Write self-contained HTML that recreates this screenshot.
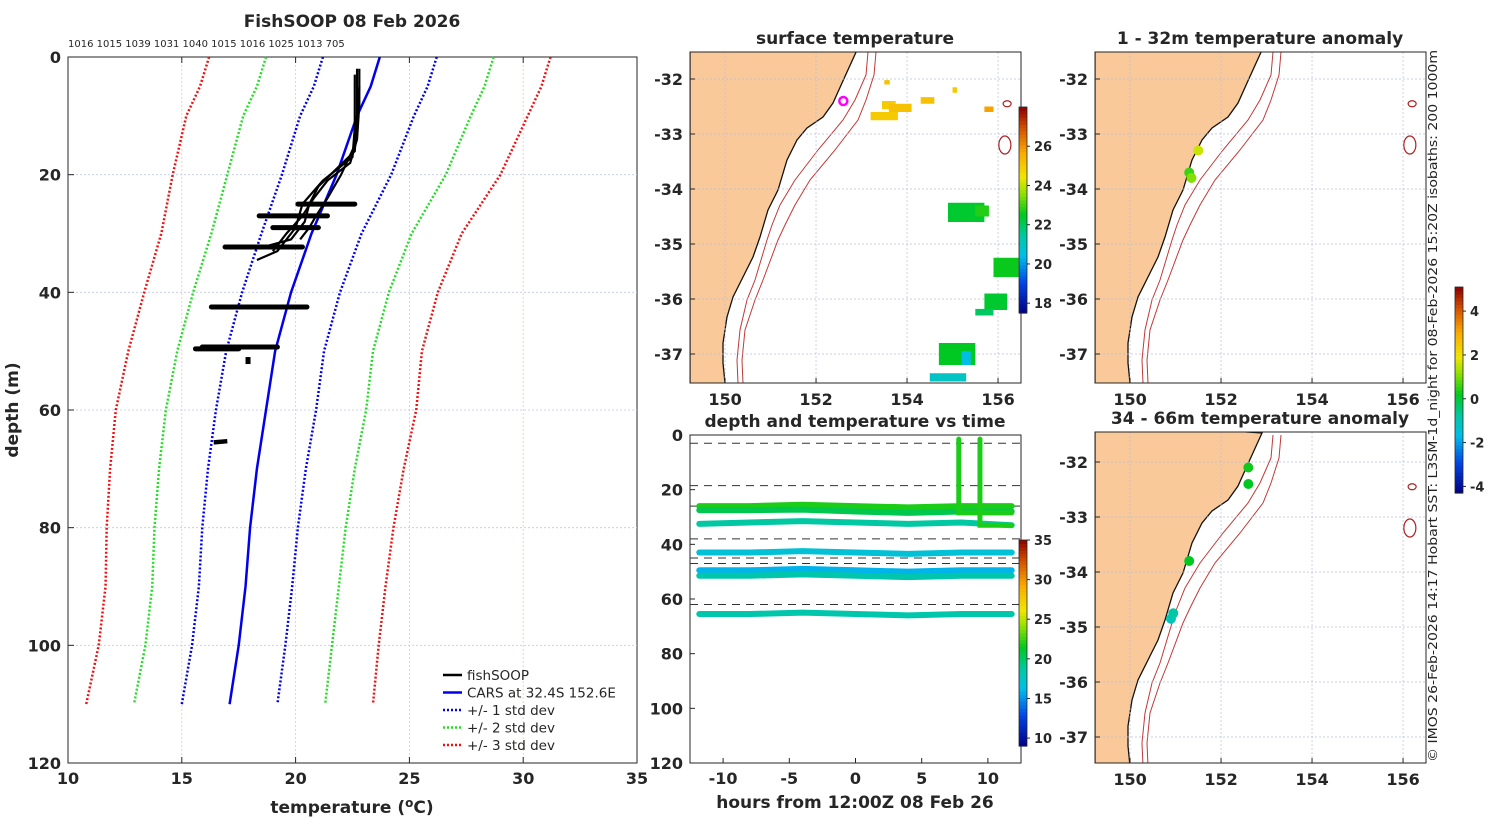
<!DOCTYPE html>
<html><head><meta charset="utf-8"><style>
html,body{margin:0;padding:0;background:#fff;width:1500px;height:820px;overflow:hidden;}
svg{display:block;font-family:"DejaVu Sans","Liberation Sans",sans-serif;}
</style></head><body>
<svg id="fig" width="1500" height="820" viewBox="0 0 1500 820" xmlns="http://www.w3.org/2000/svg">
<g id="left"></g>
<g id="sst"></g>
<g id="tv"></g>
<g id="an1"></g>
<g id="an2"></g>
<text x="1437" y="762" transform="rotate(-90 1437 762)" font-size="12.5" fill="#222" textLength="712" lengthAdjust="spacingAndGlyphs">© IMOS 26-Feb-2026 14:17 Hobart SST: L3SM-1d_night for 08-Feb-2026 15:20Z isobaths: 200  1000m</text>
</svg>
<script>
// ---------- data ----------
const carsDepth=[0,5,10,20,30,40,50,60,70,80,90,100,110];
const carsTemp=[23.7,23.3,22.7,21.8,20.7,19.8,19.1,18.7,18.3,18.0,17.8,17.5,17.1];
const carsStd=[2.5,2.5,2.5,2.4,2.2,2.15,2.15,2.2,2.15,2.1,2.05,2.05,2.1];
const dropCounts=["1016","1015","1039","1031","1040","1015","1016","1025","1013","705"];
const xTicks=[10,15,20,25,30,35];
const yTicks=[0,20,40,60,80,100,120];
const profiles=[
 [[22.8,2],[22.8,8],[22.7,14],[22.4,18],[21.4,21],[20.8,24],[20.3,27],[19.6,30],[19.0,33]],
 [[22.7,2],[22.7,10],[22.6,16],[21.8,19],[21.0,22],[20.6,25],[20.4,28],[19.8,31],[18.4,32.5]],
 [[22.6,3],[22.6,12],[22.5,17],[21.2,21],[20.3,25],[20.0,29],[19.2,33],[18.3,34.5]],
 [[22.8,5],[22.6,15],[22.0,20],[21.4,24],[20.9,27],[20.6,29],[20.2,31]]
];
const streaks=[[20.1,22.6,25],[18.4,21.4,27],[19.0,21.0,29],[16.9,20.3,32.3],[16.3,20.5,42.5],[15.9,19.2,49.3],[15.6,17.5,49.6]];
// depth-time panel
const hours=[-12,-8,-4,0,4,8,12];
const tvDepths=[[26,26,25.5,26,26.5,26,26],[27.5,27.5,27.3,28,28.5,28,28],[32.5,32,31.5,32,32.5,32,33],[43,43,42.5,43,43.5,43,43],[49.5,49.5,49,49.5,50,49.5,49.5],[51.5,51.5,51,51.5,52,51.5,51.5],[65.5,65.5,65,65.5,66,65.5,65.5]];
const tvTemps=[22,20.5,18.8,17,16,18.5,18.5];
const dashDepths=[3,18.5,26,38,45,47,62];
const spikeHours=[7.8,9.4];
const spikeBottom=[28.5,33];
const spikeTemp=22;
// sst patches [lon,lat,w,h,temp]
const sstPatches=[[153.45,-32.55,0.3,0.15,25],[153.2,-32.75,0.6,0.15,25],[153.6,-32.6,0.5,0.15,25.2],[154.3,-32.45,0.3,0.12,25.2],[153.5,-32.1,0.12,0.08,25.2],[155.0,-32.25,0.1,0.1,25],[155.7,-32.6,0.2,0.1,25.8],
 [154.9,-34.6,0.8,0.35,22.4],[155.5,-34.5,0.3,0.2,22.8],[155.9,-35.6,0.55,0.35,22.6],[155.7,-36.2,0.5,0.3,22.4],[155.5,-36.3,0.4,0.12,22],
 [154.7,-37.2,0.8,0.4,22.5],[154.5,-37.5,0.8,0.15,21],[155.2,-37.2,0.2,0.25,20.5]];
const an1Dots=[[151.5,-33.3,1.6],[151.3,-33.7,0.6],[151.35,-33.8,1.1]];
const an2Dots=[[152.6,-32.1,0.3],[152.6,-32.4,0.2],[151.3,-33.8,0.2],[150.9,-34.85,-1.0],[150.95,-34.75,-0.8]];
// ---------- helpers ----------
const NS="http://www.w3.org/2000/svg";
function el(parent,tag,attrs,name){const e=document.createElementNS(NS,tag);for(const k in attrs)e.setAttribute(k,attrs[k]);
 
 
 parent.appendChild(e);return e;}
function txt(parent,x,y,s,size,anchor,bold,name){const t=el(parent,'text',{x:x,y:y,'font-size':size,'text-anchor':anchor||'middle','font-weight':bold?'bold':'normal',fill:'#262626'},name);t.textContent=s;return t;}
function jet(t){t=Math.max(0,Math.min(1,t));const s=[[0,[0,0,130]],[0.15,[0,70,230]],[0.28,[0,190,235]],[0.38,[0,200,160]],[0.48,[0,200,30]],[0.58,[140,225,0]],[0.66,[240,230,0]],[0.78,[250,170,0]],[0.9,[210,80,0]],[1,[140,0,0]]];
 for(let i=1;i<s.length;i++){if(t<=s[i][0]){const a=s[i-1],b=s[i],f=(t-a[0])/(b[0]-a[0]);return 'rgb('+a[1].map((v,j)=>Math.round(v+(b[1][j]-v)*f)).join(',')+')';}}return 'rgb(140,0,0)';}
// ---------- left panel ----------
const L=document.getElementById('left');
const X=t=>68+(t-10)*(637-68)/25, Y=d=>57+d*(763-57)/120;
el(L,'rect',{x:68,y:57,width:569,height:706,fill:'#fff',stroke:'#262626','stroke-width':1},'plot-area');
xTicks.forEach(t=>{if(t>10&&t<35)el(L,'line',{x1:X(t),x2:X(t),y1:57,y2:763,stroke:'#e8c8b8','stroke-width':0.8,'stroke-dasharray':'2 2'},'x-grid');
 txt(L,X(t),784,String(t),16,'middle',true,'x-tick-label');
 el(L,'line',{x1:X(t),x2:X(t),y1:763,y2:757,stroke:'#262626'},'x-tick');el(L,'line',{x1:X(t),x2:X(t),y1:57,y2:63,stroke:'#262626'},'x-tick-top');});
yTicks.forEach(d=>{if(d>0&&d<120)el(L,'line',{x1:68,x2:637,y1:Y(d),y2:Y(d),stroke:'#c0c8e8','stroke-width':0.8,'stroke-dasharray':'2 2'},'y-grid');
 txt(L,61,Y(d)+6,String(d),16,'end',true,'y-tick-label');el(L,'line',{x1:68,x2:74,y1:Y(d),y2:Y(d),stroke:'#262626'},'y-tick');});
txt(L,352,27,'FishSOOP 08 Feb 2026',17,'middle',true,'chart-title');
txt(L,68,47,dropCounts.join(' '),10,'start',false,'drop-counts');
const xl=txt(L,352,813,'temperature (',17,'middle',true,'x-axis-title');xl.innerHTML='temperature (<tspan dy="-6" font-size="12">o</tspan><tspan dy="6">C)</tspan>';
const yl=txt(L,18,410,'depth (m)',17,'middle',true,'y-axis-title');yl.setAttribute('transform','rotate(-90 18 410)');
const stds=[[1,'#0000ee'],[2,'#22dd22'],[3,'#ee1111']];
stds.forEach(([k,c])=>{[-1,1].forEach(sg=>{const pts=carsDepth.map((d,i)=>X(carsTemp[i]+sg*k*carsStd[i])+','+Y(d)).join(' ');
 el(L,'polyline',{points:pts,fill:'none',stroke:c,'stroke-width':2.5,'stroke-dasharray':'2 2'},'std-dev-'+k+(sg<0?'-low':'-high'));});});
el(L,'polyline',{points:carsDepth.map((d,i)=>X(carsTemp[i])+','+Y(d)).join(' '),fill:'none',stroke:'#0000ee','stroke-width':2.5},'cars-line');
profiles.forEach(p=>el(L,'polyline',{points:p.map(q=>X(q[0])+','+Y(q[1])).join(' '),fill:'none',stroke:'#000','stroke-width':2.2},'fishsoop-profile'));
streaks.forEach(s=>el(L,'line',{x1:X(s[0]),x2:X(s[1]),y1:Y(s[2]),y2:Y(s[2]),stroke:'#000','stroke-width':5,'stroke-linecap':'round'},'fishsoop-streak'));
el(L,'rect',{x:X(17.8),y:Y(51),width:5,height:7,fill:'#000'},'fishsoop-point');
el(L,'line',{x1:X(16.4),x2:X(17.0),y1:Y(65.5),y2:Y(65.3),stroke:'#000','stroke-width':4.5},'fishsoop-point2');
const leg=[['fishSOOP','#000',''],['CARS at 32.4S 152.6E','#0000ee',''],['+/- 1 std dev','#0000ee','2 2'],['+/- 2 std dev','#22dd22','2 2'],['+/- 3 std dev','#ee1111','2 2']];
leg.forEach((l,i)=>{const y=675+i*17.5;el(L,'line',{x1:443,x2:462,y1:y,y2:y,stroke:l[1],'stroke-width':2.5,'stroke-dasharray':l[2]||'none'},'legend-line');
 txt(L,467,y+5,l[0],13.5,'start',false,'legend-entry');});
// ---------- maps ----------
const coast=[[857,50],[842,83],[833,103],[823,117],[807,128],[797,140],[787,160],[778,190],[768,210],[760,237],[753,257],[743,277],[733,297],[727,317],[723,343],[723,363],[725,383]];
const iso1=[[868,52],[866,75],[855,100],[843,120],[818,150],[795,180],[780,205],[772,225],[767,240],[755,280],[747,300],[740,330],[737,360],[738,383]];
const iso2=[[876,52],[874,75],[866,100],[858,120],[835,150],[810,180],[795,205],[785,225],[778,240],[763,280],[755,300],[745,330],[742,360],[743,383]];
function map(g,x0,y0,top,h,title){
 const MX=lon=>x0+(lon-149.23)*45.5, MY=lat=>y0+(-32-lat)*55;
 const clip='c'+x0+top;const cp=el(g,'clipPath',{id:clip},'clip');el(cp,'rect',{x:x0,y:top,width:331,height:h},'clip-rect');
 const inner=el(g,'g',{'clip-path':'url(#'+clip+')'},'map-content');
 el(inner,'rect',{x:x0,y:top,width:331,height:h,fill:'#fff'},'sea');
 const dx=x0-690,dy=y0-79;
 const cp2=coast.map(p=>(p[0]+dx)+','+(p[1]+dy)).join(' ');
 el(inner,'polygon',{points:x0+','+(y0-40)+' '+cp2+' '+x0+','+(y0+400),fill:'#fac99a',stroke:'#111','stroke-width':1.3},'land');
 [iso1,iso2].forEach((iso,i)=>el(inner,'polyline',{points:iso.map(p=>(p[0]+dx)+','+(p[1]+dy)).join(' '),fill:'none',stroke:'#c03838','stroke-width':1},'isobath-'+(i?1000:200)));
 [150,152,154,156].forEach(l=>el(inner,'line',{x1:MX(l),x2:MX(l),y1:top,y2:top+h,stroke:'#b8bedd','stroke-width':0.7,'stroke-dasharray':'2 2'},'lon-grid'));
 [-32,-33,-34,-35,-36,-37].forEach(l=>el(inner,'line',{x1:x0,x2:x0+331,y1:MY(l),y2:MY(l),stroke:'#b8bedd','stroke-width':0.7,'stroke-dasharray':'2 2'},'lat-grid'));
 el(inner,'ellipse',{cx:MX(156.15),cy:MY(-33.2),rx:6,ry:9,fill:'none',stroke:'#b02020','stroke-width':1.2},'island-reef');
 el(inner,'ellipse',{cx:MX(156.2),cy:MY(-32.45),rx:4,ry:3,fill:'none',stroke:'#b02020','stroke-width':1.2},'island-reef2');
 el(inner,'ellipse',{cx:MX(156.25),cy:MY(-37.75),rx:4,ry:3,fill:'none',stroke:'#b02020','stroke-width':1.2},'island-reef3');
 el(g,'rect',{x:x0,y:top,width:331,height:h,fill:'none',stroke:'#262626'},'map-frame');
 [150,152,154,156].forEach(l=>{el(g,'line',{x1:MX(l),x2:MX(l),y1:top+h,y2:top+h-5,stroke:'#262626'},'lon-tick');txt(g,MX(l),top+h+22,String(l),16,'middle',true,'lon-label');});
 [-32,-33,-34,-35,-36,-37].forEach(l=>{const y=MY(l);if(y>top+5&&y<top+h-5){el(g,'line',{x1:x0,x2:x0+5,y1:y,y2:y,stroke:'#262626'},'lat-tick');txt(g,x0-7,y+6,String(l),16,'end',true,'lat-label');}});
 txt(g,x0+165,top-8,title,17,'middle',true,'map-title');
 return {inner,MX,MY};
}
function cbar(g,x,y,h,lo,hi,ticks,name){const n=60;for(let i=0;i<n;i++){el(g,'rect',{x:x,y:y+h-(i+1)*h/n,width:8,height:h/n+0.6,fill:jet((i+0.5)/n)},name+'-cell');}
 el(g,'rect',{x:x,y:y,width:8,height:h,fill:'none',stroke:'#262626','stroke-width':0.8},name+'-frame');
 ticks.forEach(t=>{const yy=y+h-(t-lo)/(hi-lo)*h;el(g,'line',{x1:x+8,x2:x+11,y1:yy,y2:yy,stroke:'#262626'},name+'-tick');txt(g,x+15,yy+5,String(t),13,'start',true,name+'-label');});}
const S=document.getElementById('sst');
const m1=map(S,690,79,52,331,'surface temperature');
sstPatches.forEach(p=>el(m1.inner,'rect',{x:m1.MX(p[0]),y:m1.MY(p[1]+p[3]),width:p[2]*45.5,height:p[3]*55,fill:jet((p[4]-17.5)/(28-17.5))},'sst-patch'));
el(m1.inner,'circle',{cx:m1.MX(152.6),cy:m1.MY(-32.4),r:4,fill:'none',stroke:'#ff00ff','stroke-width':2.5},'cast-location');
cbar(S,1019,107,206,17.5,28,[18,20,22,24,26],'sst-colorbar');
const A1=document.getElementById('an1');const m2=map(A1,1095,79,52,331,'1 - 32m temperature anomaly');
an1Dots.forEach(d=>el(m2.inner,'circle',{cx:m2.MX(d[0]),cy:m2.MY(d[1]),r:5,fill:jet((d[2]+4.3)/9.4)},'anomaly-dot'));
const A2=document.getElementById('an2');const m3=map(A2,1095,462,432,331,'34 - 66m temperature anomaly');
an2Dots.forEach(d=>el(m3.inner,'circle',{cx:m3.MX(d[0]),cy:m3.MY(d[1]),r:5,fill:jet((d[2]+4.3)/9.4)},'anomaly-dot'));
cbar(A1,1455,287,206,-4.3,5.1,[-4,-2,0,2,4],'anomaly-colorbar');
// ---------- depth-time ----------
const T=document.getElementById('tv');
const TX=h=>690+(h+12.5)*331/25, TY=d=>435+d*328/120;
el(T,'rect',{x:690,y:435,width:331,height:328,fill:'#fff',stroke:'#262626'},'plot-area');
dashDepths.forEach(d=>el(T,'line',{x1:690,x2:1021,y1:TY(d),y2:TY(d),stroke:'#333','stroke-width':1,'stroke-dasharray':'8 6'},'dashed-depth-line'));
tvDepths.forEach((s,i)=>el(T,'polyline',{points:hours.map((h,j)=>TX(Math.max(-11.8,Math.min(11.8,h)))+','+TY(s[j])).join(' '),fill:'none',stroke:jet((tvTemps[i]-9)/26),'stroke-width':6,'stroke-linecap':'round'},'temp-trace'));
spikeHours.forEach((h,i)=>el(T,'polyline',{points:TX(h)+','+TY(1.5)+' '+TX(h)+','+TY(spikeBottom[i])+' '+TX(11.8)+','+TY(spikeBottom[i]),fill:'none',stroke:jet((spikeTemp-9)/26),'stroke-width':5,'stroke-linecap':'round'},'profile-spike'));
[-10,-5,0,5,10].forEach(h=>{el(T,'line',{x1:TX(h),x2:TX(h),y1:763,y2:758,stroke:'#262626'},'x-tick');txt(T,TX(h),784,String(h),16,'middle',true,'x-tick-label');});
[0,20,40,60,80,100,120].forEach(d=>{el(T,'line',{x1:690,x2:695,y1:TY(d),y2:TY(d),stroke:'#262626'},'y-tick');txt(T,683,TY(d)+6,String(d),16,'end',true,'y-tick-label');});
txt(T,855,427,'depth and temperature vs time',17,'middle',true,'panel-title');
txt(T,855,808,'hours from 12:00Z 08 Feb 26',17,'middle',true,'x-axis-title');
cbar(T,1019,540,206,9,35,[10,15,20,25,30,35],'time-colorbar');
</script>
</body></html>
